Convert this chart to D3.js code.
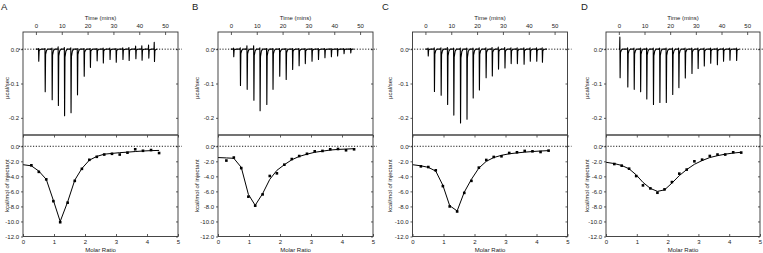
<!DOCTYPE html>
<html>
<head>
<meta charset="utf-8">
<script src="https://cdn.jsdelivr.net/npm/d3@7"></script>
<style>
  body { margin: 0; background: #fff; }
  svg { display: block; font-family: "Liberation Sans", Arial, sans-serif; }
</style>
</head>
<body>
<svg id="chart" width="763" height="253"></svg>
<script>
// ---- data ----
const panelNames = ['A', 'B', 'C', 'D'];
const timeTicks = [0, 10, 20, 30, 40, 50];
const rawTicks = [0, -0.1, -0.2];
const heatTicks = [0, -2, -4, -6, -8, -10, -12];
const ratioTicks = [0, 1, 2, 3, 4, 5];

// molar ratio of each integrated injection (fit also starts at 0)
const molarRatio = [0.27, 0.51, 0.75, 0.98, 1.2, 1.44, 1.67, 1.9, 2.14, 2.38, 2.62, 2.87, 3.12, 3.37, 3.62, 3.87, 4.13, 4.39];
const fitRatio = [0, 0.27, 0.51, 0.75, 0.98, 1.2, 1.44, 1.67, 1.9, 2.14, 2.38, 2.62, 2.87, 3.12, 3.37, 3.62, 3.87, 4.13, 4.39];

// raw thermograms: injection time (min), peak (µcal/sec), small upward blip before peak
const injA = [1.0, 3.5, 6.2, 8.6, 11.0, 13.5, 16.0, 18.6, 21.0, 23.6, 26.0, 28.6, 31.0, 33.6, 36.0, 38.6, 41.0, 43.6, 45.8];
const peakA = [-0.035, -0.124, -0.147, -0.164, -0.194, -0.185, -0.133, -0.079, -0.053, -0.034, -0.040, -0.030, -0.038, -0.030, -0.033, -0.028, -0.032, -0.026, -0.036];
const blipA = [0.002, 0.002, 0.003, 0.007, 0.005, 0.004, 0.002, 0.002, 0.002, 0.002, 0.003, 0.003, 0.002, 0.004, 0.005, 0.009, 0.010, 0.012, 0.020];

const injB = [1.0, 3.6, 6.2, 8.8, 11.2, 13.8, 16.2, 18.8, 21.3, 23.8, 26.3, 28.7, 31.3, 33.8, 36.3, 38.8, 41.2, 43.7, 46.3];
const peakB = [-0.022, -0.106, -0.117, -0.149, -0.179, -0.161, -0.117, -0.079, -0.088, -0.059, -0.048, -0.042, -0.035, -0.030, -0.025, -0.022, -0.020, -0.013, -0.011];
const blipB = [0.003, 0.004, 0.010, 0.010, 0.004, 0.002, 0.002, 0.002, 0.002, 0.002, 0.002, 0.002, 0.002, 0.002, 0.002, 0.002, 0.002, 0.002, 0.002];

const injC = [1.0, 3.4, 6.0, 8.5, 10.9, 13.5, 16.0, 18.4, 20.8, 23.4, 25.8, 28.2, 30.7, 33.1, 35.5, 38.1, 40.5, 43.0, 45.2];
const peakC = [-0.020, -0.123, -0.134, -0.161, -0.192, -0.215, -0.204, -0.142, -0.119, -0.083, -0.078, -0.058, -0.055, -0.042, -0.042, -0.044, -0.035, -0.035, -0.038];
const blipC = [0.003, 0.004, 0.004, 0.005, 0.003, 0.003, 0.003, 0.003, 0.004, 0.004, 0.005, 0.006, 0.005, 0.004, 0.004, 0.004, 0.004, 0.004, 0.004];

const injD = [0.4, 3.4, 5.9, 8.4, 10.8, 13.4, 15.9, 18.4, 20.9, 23.3, 25.8, 28.4, 30.8, 33.2, 35.7, 38.3, 40.7, 43.2, 45.8];
const peakD = [-0.083, -0.110, -0.117, -0.124, -0.145, -0.161, -0.155, -0.155, -0.132, -0.112, -0.084, -0.071, -0.056, -0.049, -0.041, -0.045, -0.035, -0.032, -0.033];
const blipD = [0.035, 0.004, 0.003, 0.003, 0.003, 0.003, 0.003, 0.003, 0.003, 0.003, 0.003, 0.003, 0.003, 0.003, 0.003, 0.003, 0.003, 0.003, 0.003];

// integrated heats (kcal/mol of injectant) and fitted curve
const heatA = [-2.53, -3.4, -4.4, -7.3, -10.1, -7.5, -4.6, -3.0, -1.8, -1.4, -1.1, -1.0, -1.1, -0.85, -0.4, -0.6, -0.5, -0.9];
const fitA = [-2.45, -2.6, -3.3, -4.4, -7.2, -10.0, -7.4, -4.5, -2.95, -1.85, -1.35, -1.05, -0.95, -0.85, -0.78, -0.7, -0.63, -0.58, -0.55];

const heatB = [-1.9, -1.5, -2.9, -6.7, -7.9, -6.4, -3.95, -3.6, -2.45, -1.7, -1.3, -1.0, -0.67, -0.62, -0.4, -0.36, -0.53, -0.4];
const fitB = [-1.5, -1.55, -1.6, -2.8, -6.4, -7.85, -6.3, -4.4, -3.2, -2.45, -1.8, -1.35, -1.05, -0.8, -0.65, -0.5, -0.42, -0.37, -0.32];

const heatC = [-2.67, -2.76, -3.2, -5.3, -8.0, -8.67, -6.2, -4.6, -2.84, -1.82, -1.42, -1.33, -0.89, -0.8, -0.62, -0.67, -0.76, -0.58];
const fitC = [-2.45, -2.6, -2.8, -3.3, -5.2, -7.9, -8.6, -6.1, -4.4, -2.9, -2.0, -1.5, -1.2, -1.0, -0.88, -0.78, -0.7, -0.63, -0.58];

const heatD = [-2.36, -2.58, -2.98, -3.96, -5.2, -5.6, -6.18, -5.73, -4.76, -3.64, -3.1, -2.0, -1.78, -1.29, -1.1, -1.1, -0.8, -0.84];
const fitD = [-2.13, -2.3, -2.55, -3.0, -3.8, -4.8, -5.6, -6.0, -5.8, -4.9, -3.9, -3.1, -2.4, -1.9, -1.5, -1.25, -1.05, -0.9, -0.8];

const panels = [
  { name: 'A', inj: injA, peak: peakA, blip: blipA, heat: heatA, fit: fitA },
  { name: 'B', inj: injB, peak: peakB, blip: blipB, heat: heatB, fit: fitB },
  { name: 'C', inj: injC, peak: peakC, blip: blipC, heat: heatC, fit: fitC },
  { name: 'D', inj: injD, peak: peakD, blip: blipD, heat: heatD, fit: fitD }
];

// ---- layout ----
const panelLeft = [23, 218, 412.5, 606];
const letterX = [1, 192, 382, 581];
const yTitleX = [8.5, 199, 392, 589];
const panelW = 155;
const topY = 32, midY = 135, botY = 236.5;
const axisColor = '#333';
const fontSize = 6;

const svg = d3.select('#chart');
const fmt1 = d => d.toFixed(1);
const fmt0 = d3.format('d');

function styleAxis (g) {
  g.select('.domain').remove();
  g.selectAll('line').attr('stroke', axisColor).attr('stroke-width', 0.8);
  g.selectAll('text').attr('fill', '#222').style('font-size', fontSize + 'px').attr('font-family', null);
}

panels.forEach((p, i) => {
  const x0 = panelLeft[i];
  const w = i === 3 ? panelW - 1 : panelW;
  const x1 = x0 + w;
  const g = svg.append('g');

  const xTime = d3.scaleLinear().domain([-5, 55]).range([x0, x1]);
  const yRaw = d3.scaleLinear().domain([-0.25, 0.05]).range([midY, topY]);
  const xRatio = d3.scaleLinear().domain([0, 5]).range([x0, x1]);
  const yHeat = d3.scaleLinear().domain([-12, 1.5]).range([botY, midY]);

  // panel letter
  g.append('text')
    .attr('x', letterX[i])
    .attr('y', 10)
    .style('font-size', '9.5px')
    .attr('fill', '#222')
    .text(p.name);

  // ---- top: raw heat ----
  g.append('g')
    .attr('transform', 'translate(0,' + topY + ')')
    .call(d3.axisTop(xTime).tickValues(timeTicks).tickFormat(fmt0).tickSize(-3).tickPadding(4.5))
    .call(styleAxis);

  g.append('text')
    .attr('x', (x0 + x1) / 2)
    .attr('y', 19.5)
    .attr('text-anchor', 'middle')
    .style('font-size', fontSize + 'px')
    .attr('fill', '#222')
    .text('Time (mins)');

  g.append('g')
    .attr('transform', 'translate(' + x0 + ',0)')
    .call(d3.axisLeft(yRaw).tickValues(rawTicks).tickFormat(fmt1).tickSize(2).tickPadding(2))
    .call(styleAxis);

  g.append('g')
    .attr('transform', 'translate(' + x1 + ',0)')
    .call(d3.axisRight(yRaw).tickValues(rawTicks).tickFormat('').tickSize(-2))
    .call(styleAxis);

  g.append('text')
    .attr('transform', 'translate(' + yTitleX[i] + ',' + 88 + ') rotate(-90)')
    .attr('text-anchor', 'middle')
    .style('font-size', fontSize + 'px')
    .attr('fill', '#222')
    .text('µcal/sec');

  // zero reference
  g.append('line')
    .attr('x1', x0 - 4).attr('x2', x1 + 4)
    .attr('y1', yRaw(0)).attr('y2', yRaw(0))
    .attr('stroke', '#000')
    .attr('stroke-width', 0.9)
    .attr('stroke-dasharray', '1.2,1.6');

  // thermogram trace: baseline with one spike per injection
  const trace = [[0, 0]];
  p.inj.forEach((t, k) => {
    trace.push([t - 0.1, 0]);
    trace.push([t, p.blip[k]]);
    trace.push([t + 0.1, p.peak[k]]);
    trace.push([t + 0.25, p.peak[k] * 0.12]);
    trace.push([t + 0.6, p.peak[k] * 0.03]);
    trace.push([t + 1.1, 0]);
  });
  trace.push([47, 0]);

  g.append('path')
    .datum(trace)
    .attr('fill', 'none')
    .attr('stroke', '#000')
    .attr('stroke-width', 1.1)
    .attr('stroke-linejoin', 'round')
    .attr('d', d3.line().x(d => xTime(d[0])).y(d => yRaw(d[1])));

  // ---- bottom: integrated heats ----
  g.append('g')
    .attr('transform', 'translate(0,' + botY + ')')
    .call(d3.axisBottom(xRatio).tickValues(ratioTicks).tickFormat(fmt0).tickSize(-2.5).tickPadding(3.7))
    .call(styleAxis);

  g.append('g')
    .attr('transform', 'translate(0,' + midY + ')')
    .call(d3.axisTop(xRatio).tickValues(ratioTicks).tickFormat('').tickSize(-2.5))
    .call(styleAxis);

  g.append('g')
    .attr('transform', 'translate(' + x0 + ',0)')
    .call(d3.axisLeft(yHeat).tickValues(heatTicks).tickFormat(fmt1).tickSize(2).tickPadding(2))
    .call(styleAxis);

  g.append('g')
    .attr('transform', 'translate(' + x1 + ',0)')
    .call(d3.axisRight(yHeat).tickValues(heatTicks).tickFormat('').tickSize(-2))
    .call(styleAxis);

  g.append('text')
    .attr('x', (x0 + x1) / 2)
    .attr('y', 252)
    .attr('text-anchor', 'middle')
    .style('font-size', fontSize + 'px')
    .attr('fill', '#222')
    .text('Molar Ratio');

  g.append('text')
    .attr('transform', 'translate(' + yTitleX[i] + ',' + (midY + botY) / 2 + ') rotate(-90)')
    .attr('text-anchor', 'middle')
    .style('font-size', fontSize + 'px')
    .attr('fill', '#222')
    .text('kcal/mol of injectant');

  g.append('line')
    .attr('x1', x0 - 4).attr('x2', x1 + 4)
    .attr('y1', yHeat(0)).attr('y2', yHeat(0))
    .attr('stroke', '#000')
    .attr('stroke-width', 0.9)
    .attr('stroke-dasharray', '1.2,1.6');

  g.append('path')
    .datum(p.fit.map((v, k) => [fitRatio[k], v]))
    .attr('fill', 'none')
    .attr('stroke', '#000')
    .attr('stroke-width', 1)
    .attr('d', d3.line().x(d => xRatio(d[0])).y(d => yHeat(d[1])));

  g.selectAll('.pt')
    .data(p.heat)
    .enter()
    .append('rect')
    .attr('class', 'pt')
    .attr('x', (d, k) => xRatio(molarRatio[k]) - 1.3)
    .attr('y', d => yHeat(d) - 1.3)
    .attr('width', 2.6)
    .attr('height', 2.6)
    .attr('fill', '#000');

  // frames
  g.append('rect')
    .attr('x', x0).attr('y', topY)
    .attr('width', w).attr('height', botY - topY)
    .attr('fill', 'none')
    .attr('stroke', axisColor)
    .attr('stroke-width', 0.9);

  g.append('line')
    .attr('x1', x0).attr('x2', x1)
    .attr('y1', midY).attr('y2', midY)
    .attr('stroke', '#444')
    .attr('stroke-width', 1.6);
});
</script>
</body>
</html>
